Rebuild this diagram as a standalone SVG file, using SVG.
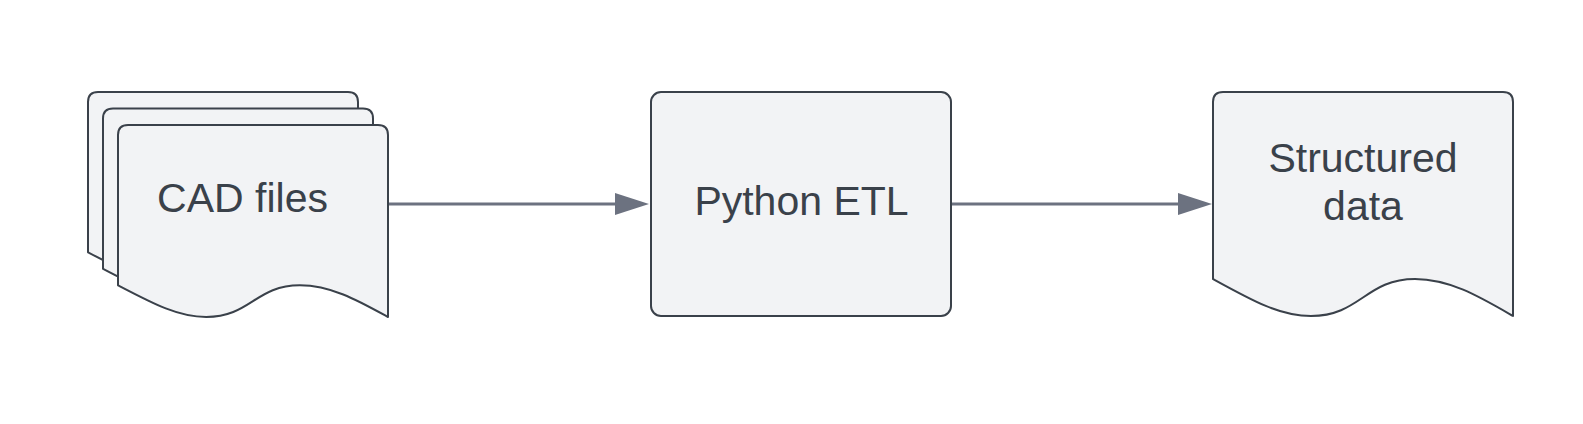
<svg xmlns="http://www.w3.org/2000/svg" width="1583" height="424" viewBox="0 0 1583 424">
  <style>
    .shape { fill: #f2f3f5; stroke: #3a414a; stroke-width: 2; stroke-linejoin: round; }
    .label { font-family: "Liberation Sans", Arial, sans-serif; font-size: 41px; fill: #3a414a; text-anchor: middle; }
    .conn { stroke: #6c7280; stroke-width: 3; fill: none; }
  </style>
  <defs>
    <path id="page" d="M0,10 Q0,0 10,0 H260 Q270,0 270,10 V192 C240.3,175.7 213.3,160.3 181.8,160.3 C137.7,160.3 132.3,192 88.2,192 C60.3,192 36,179.1 0,160.3 Z"/>
    <marker id="arrow" markerUnits="userSpaceOnUse" markerWidth="34" markerHeight="22" viewBox="0 0 34 22" refX="1" refY="11" orient="auto">
      <path d="M0,0 L34,11 L0,22 Z" fill="#6c7280"/>
    </marker>
  </defs>
  <rect width="1583" height="424" fill="#ffffff"/>

  <g id="connectors">
    <line class="conn" x1="388" y1="204" x2="616" y2="204" marker-end="url(#arrow)"/>
    <line class="conn" x1="951" y1="204" x2="1179" y2="204" marker-end="url(#arrow)"/>
  </g>

  <g id="cad-files">
    <use href="#page" class="shape" transform="translate(88,92)"/>
    <use href="#page" class="shape" transform="translate(103,108.5)"/>
    <use href="#page" class="shape" transform="translate(118,125)"/>
    <text class="label" x="242.5" y="211.7">CAD files</text>
  </g>

  <g id="python-etl">
    <rect class="shape" x="651" y="92" width="300" height="224" rx="10" ry="10"/>
    <text class="label" x="801.5" y="215">Python ETL</text>
  </g>

  <g id="structured-data">
    <path class="shape" d="M1213,102 Q1213,92 1223,92 H1503 Q1513,92 1513,102 V316 C1480,297 1450,279 1415,279 C1366,279 1360,316 1311,316 C1280,316 1253,301 1213,279 Z"/>
    <text class="label" x="1363" y="171.7">Structured</text>
    <text class="label" x="1363" y="220">data</text>
  </g>
</svg>
